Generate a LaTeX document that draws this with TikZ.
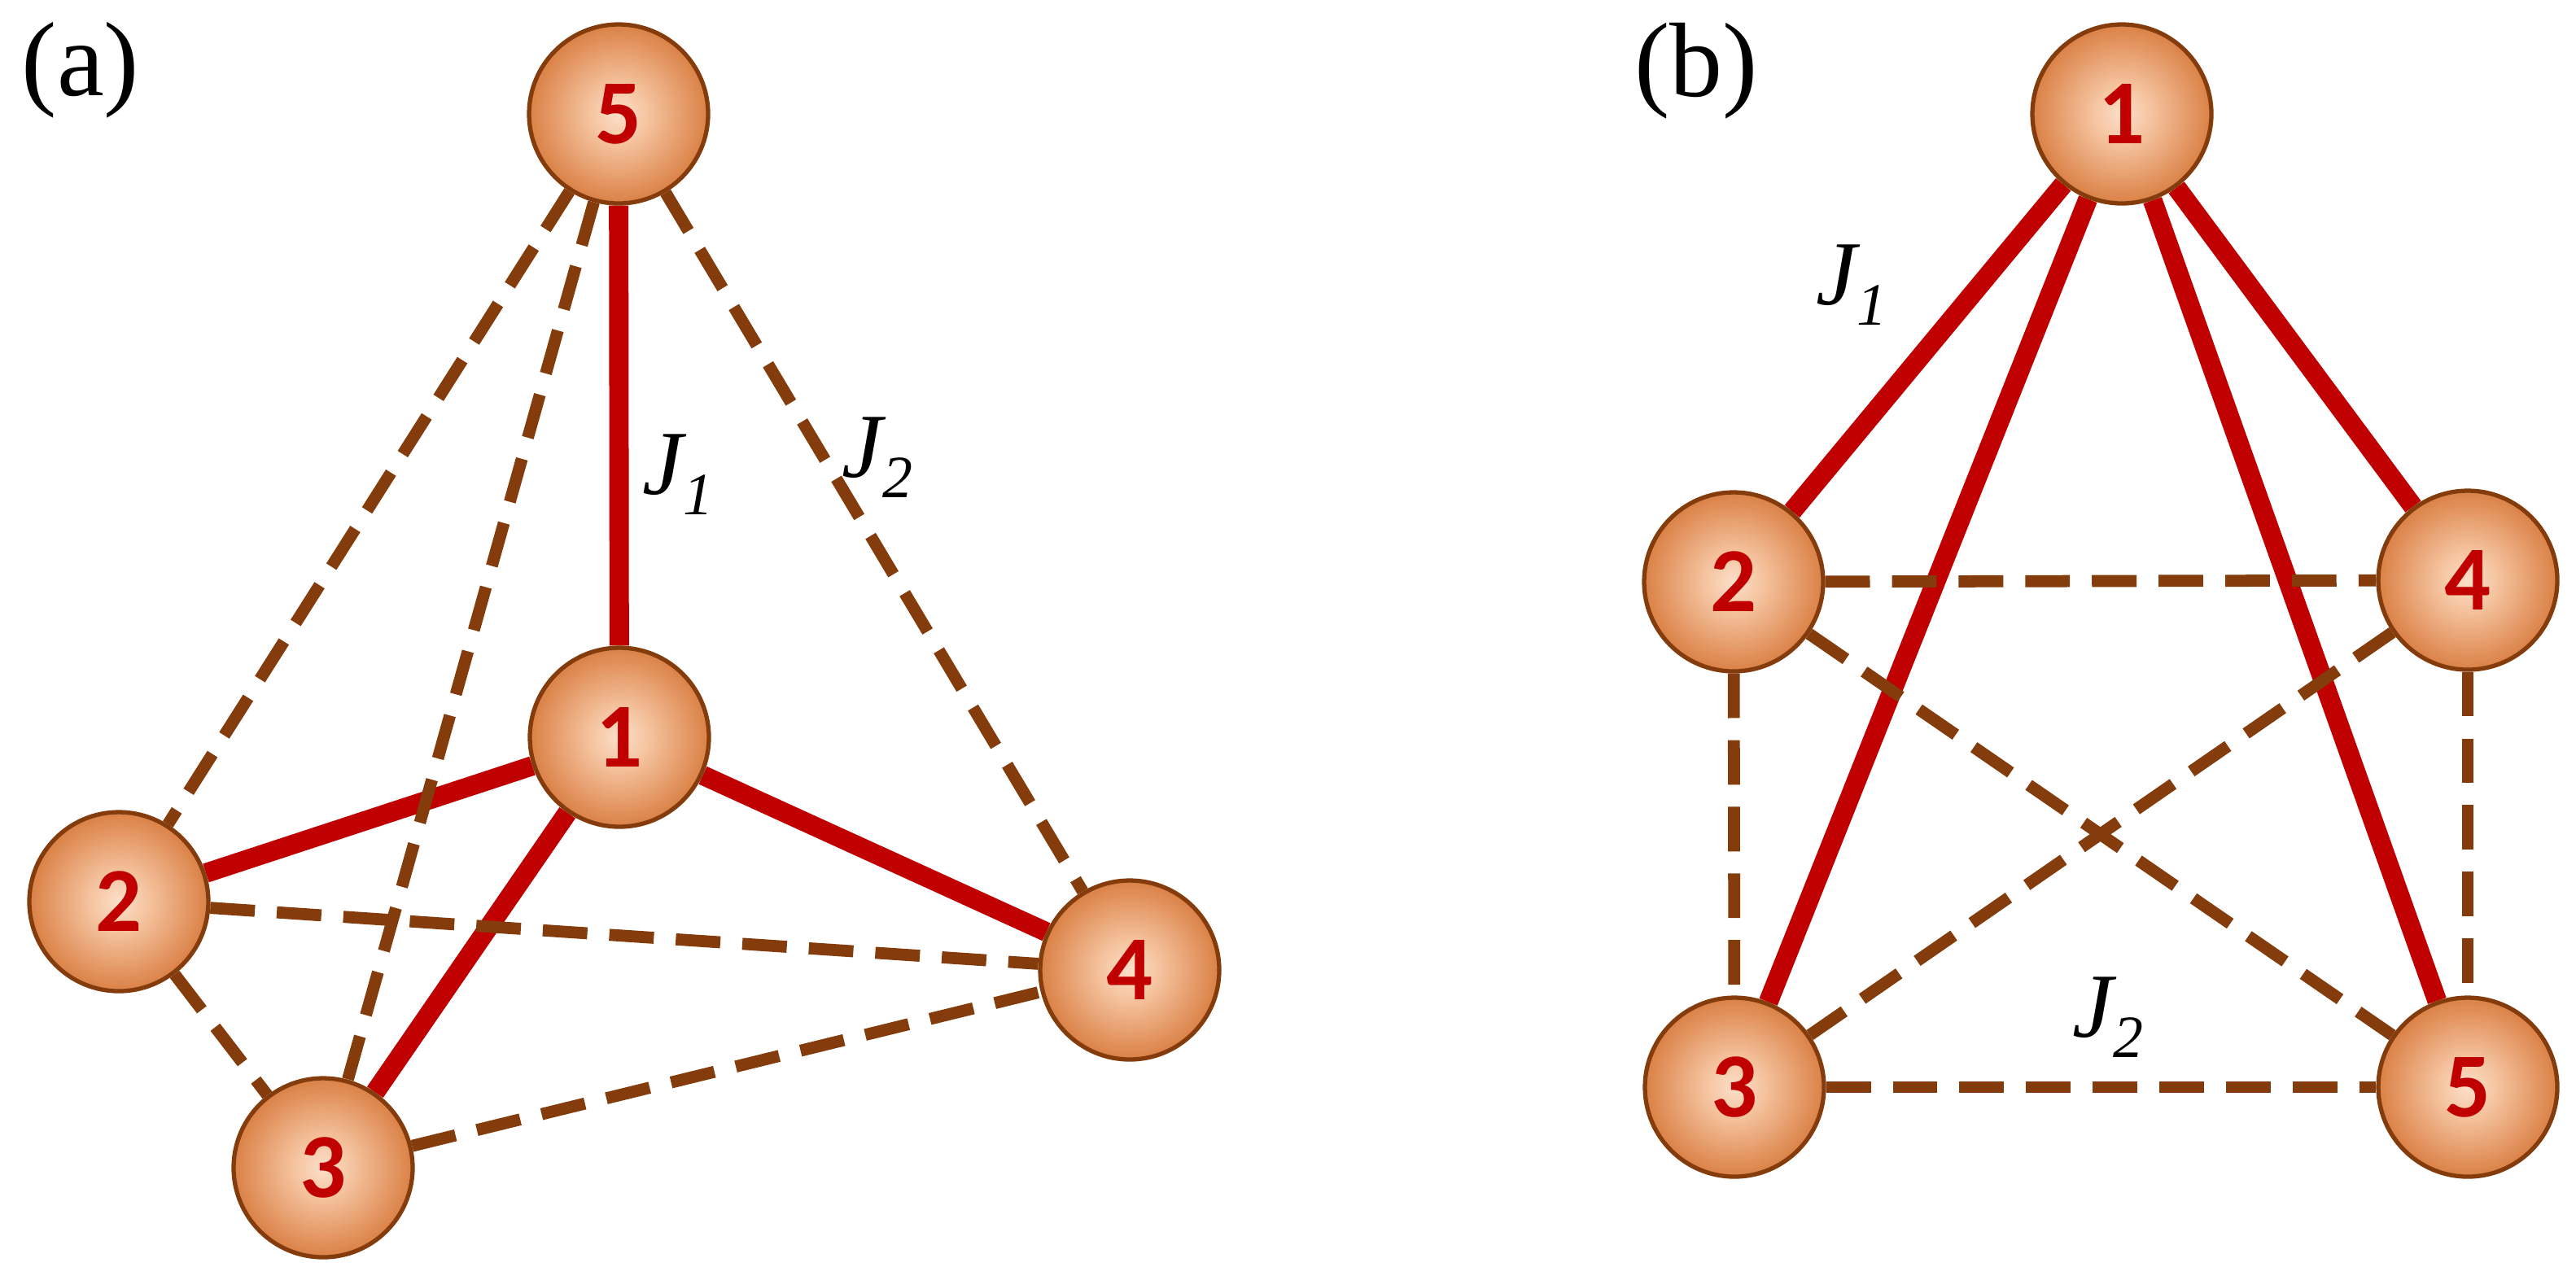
\documentclass[tikz,border=0pt]{standalone}
\usepackage{fontspec}
\setmainfont{Liberation Serif}
\newfontfamily\sitefont{Carlito}[BoldFont={Carlito Bold}]
\usetikzlibrary{backgrounds}

\definecolor{bondred}{HTML}{C00000}
\definecolor{bondbrown}{HTML}{843C0C}
\definecolor{ballin}{HTML}{FCDFC9}
\definecolor{ballmid}{HTML}{F5C4A0}
\definecolor{ballrim}{HTML}{E39460}
\definecolor{balldark}{HTML}{D06E2C}
\definecolor{ballout}{HTML}{C55A11}
\pgfdeclareradialshading{sphere}{\pgfpoint{0bp}{0bp}}{color(0bp)=(ballin); color(8bp)=(ballmid); color(20bp)=(ballrim); color(30bp)=(balldark); color(36bp)=(ballout); color(50bp)=(ballout)}

\newcommand{\Jlab}[1]{{\fontsize{32}{32}\selectfont\itshape J\raisebox{-7pt}{\fontsize{21}{21}\selectfont #1}}}

\begin{document}
\begin{tikzpicture}[
		site/.style={circle, draw=bondbrown, line width=1.5pt, shading=sphere, minimum size=2.2cm, inner sep=0pt, text=bondred, font=\sitefont\bfseries\fontsize{32}{32}\selectfont},
		jone/.style={bondred, line width=6.8pt},
		jtwo/.style={bondbrown, line width=4.2pt, dash pattern=on 15.6pt off 7.7pt},
		panel/.style={font=\fontsize{37}{37}\selectfont}
	]
			\useasboundingbox (0,0) rectangle (31.65,-15.72);
			
			%%%(a)
			\foreach \n/\x/\y in {1/7.61/-9.06, 2/1.46/-11.08, 3/3.97/-14.35, 4/13.88/-11.92, 5/7.60/-1.40}
			{
				\node[site] (a\n) at (\x,\y) {\n};
			}
			
			%%%(b)
			\foreach \n/\x/\y in {1/26.07/-1.40, 2/21.30/-7.15, 3/21.31/-13.36, 4/30.32/-7.13, 5/30.32/-13.36}
			{
				\node[site] (b\n) at (\x,\y) {\n};
			}
			
			%%bonds
			\begin{scope}[on background layer]
				\foreach \i in {2,3,4,5}
				{
					\draw[jone] (a1) -- (a\i);
					\draw[jone] (b1) -- (b\i);
				}
				\foreach \i/\j in {5/2, 5/3, 5/4, 2/3, 2/4, 3/4}
					\draw[jtwo] (a\i) -- (a\j);
				\foreach \i/\j in {2/4, 2/3, 2/5, 4/3, 4/5, 3/5}
					\draw[jtwo] (b\i) -- (b\j);
			\end{scope}
			
			%%labels
			\node[panel] (la) at (0.99,-0.86) {(a)};
			\node[panel] (lb) at (20.84,-0.87) {(b)};
			\node (Ja1) at (8.33,-5.83) {\Jlab{1}};
			\node (Ja2) at (10.78,-5.62) {\Jlab{2}};
			\node (Jb1) at (22.75,-3.50) {\Jlab{1}};
			\node (Jb2) at (25.90,-12.50) {\Jlab{2}};
		\end{tikzpicture}
\end{document}
